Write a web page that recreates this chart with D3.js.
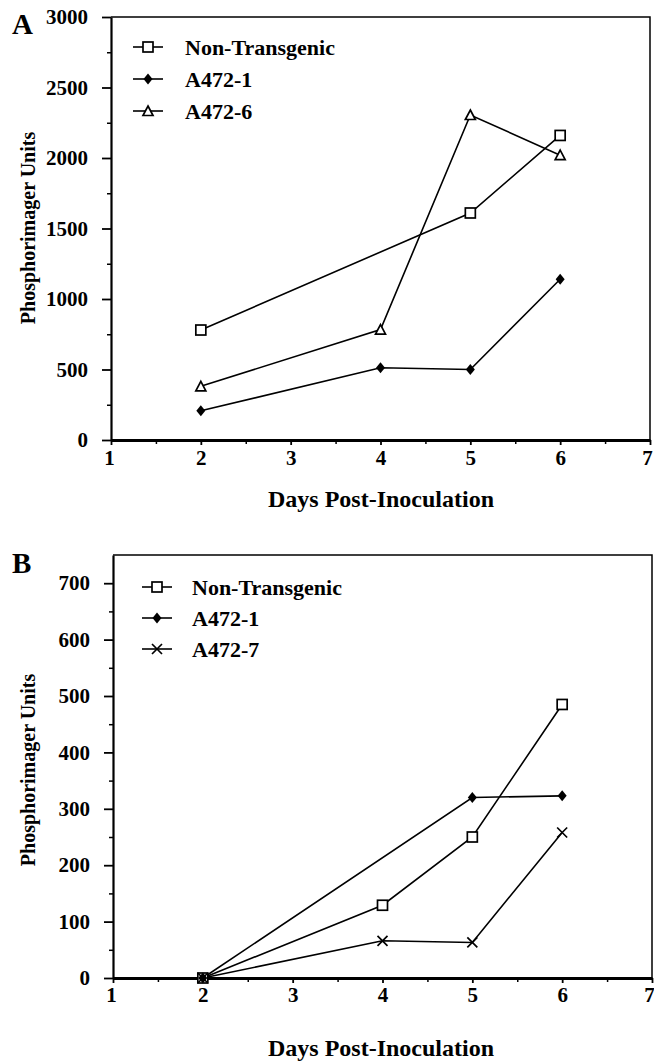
<!DOCTYPE html>
<html>
<head>
<meta charset="utf-8">
<script src="https://cdn.jsdelivr.net/npm/d3@7"></script>
<style>
  html, body { margin: 0; padding: 0; background: #fff; }
  svg text { font-family: "Liberation Serif", "Times New Roman", serif; font-weight: bold; fill: #000; }
</style>
</head>
<body>
<svg id="chart" width="654" height="1061"></svg>
<script>
// Panel A data (days post-inoculation vs phosphorimager units)
var seriesNamesA = ['Non-Transgenic', 'A472-1', 'A472-6'];
var nonTransgenicA = [[2, 780], [5, 1610], [6, 2160]];
var a472_1A = [[2, 207], [4, 512], [5, 500], [6, 1140]];
var a472_6A = [[2, 381], [4, 783], [5, 2305], [6, 2020]];
var yTicksA = [0, 500, 1000, 1500, 2000, 2500, 3000];

// Panel B data
var seriesNamesB = ['Non-Transgenic', 'A472-1', 'A472-7'];
var nonTransgenicB = [[2, 0], [4, 129], [5, 250], [6, 485]];
var a472_1B = [[2, 0], [5, 320], [6, 323]];
var a472_7B = [[2, 0], [4, 66], [5, 63], [6, 258]];
var yTicksB = [0, 100, 200, 300, 400, 500, 600, 700];

var xTicks = [1, 2, 3, 4, 5, 6, 7];

var svg = d3.select('#chart');

function drawMarker(g, type, x, y) {
  var s = 5;
  if (type === 'square') {
    g.append('rect')
      .attr('x', x - s).attr('y', y - s)
      .attr('width', 2 * s).attr('height', 2 * s)
      .attr('fill', '#fff').attr('stroke', '#000').attr('stroke-width', 1.7);
  } else if (type === 'diamond') {
    g.append('path')
      .attr('d', 'M' + x + ',' + (y - 5.5) + 'L' + (x + 4.5) + ',' + y +
        'L' + x + ',' + (y + 5.5) + 'L' + (x - 4.5) + ',' + y + 'Z')
      .attr('fill', '#000');
  } else if (type === 'triangle') {
    g.append('path')
      .attr('d', 'M' + x + ',' + (y - 5) + 'L' + (x + 5) + ',' + (y + 4.5) +
        'L' + (x - 5) + ',' + (y + 4.5) + 'Z')
      .attr('fill', '#fff').attr('stroke', '#000').attr('stroke-width', 1.7);
  } else if (type === 'cross') {
    g.append('path')
      .attr('d', 'M' + (x - 5) + ',' + (y - 5) + 'L' + (x + 5) + ',' + (y + 5) +
        'M' + (x + 5) + ',' + (y - 5) + 'L' + (x - 5) + ',' + (y + 5))
      .attr('stroke', '#000').attr('stroke-width', 1.7).attr('fill', 'none');
  }
}

function drawPanel(opts) {
  var x = d3.scaleLinear().domain([1, 7]).range([opts.left, opts.right]);
  var y = d3.scaleLinear().domain([0, opts.yMax]).range([opts.bottom, opts.top]);
  var g = svg.append('g');

  // frame (top + right)
  g.append('path')
    .attr('d', 'M' + opts.left + ',' + opts.top + 'H' + opts.right + 'V' + opts.bottom)
    .attr('fill', 'none').attr('stroke', '#000').attr('stroke-width', 1.5);

  // minor y ticks
  g.append('g')
    .attr('transform', 'translate(' + opts.left + ',0)')
    .call(d3.axisLeft(y).tickValues(d3.range(opts.yStep / 2, opts.yMax, opts.yStep))
      .tickSize(4).tickFormat(''))
    .call(function (a) { a.select('.domain').remove(); })
    .selectAll('line').attr('stroke-width', 1.5);

  // major y axis
  var ya = g.append('g')
    .attr('transform', 'translate(' + opts.left + ',0)')
    .call(d3.axisLeft(y).tickValues(opts.yTicks).tickSize(9).tickSizeOuter(0)
      .tickPadding(14).tickFormat(d3.format('d')));
  ya.select('.domain').attr('stroke-width', 2.2);
  ya.selectAll('line').attr('stroke-width', 1.8);
  ya.selectAll('text').attr('font-size', 21).attr('font-family', null);

  // minor x ticks
  g.append('g')
    .attr('transform', 'translate(0,' + opts.bottom + ')')
    .call(d3.axisBottom(x).tickValues(d3.range(1.5, 7, 1)).tickSize(4).tickFormat(''))
    .call(function (a) { a.select('.domain').remove(); })
    .selectAll('line').attr('stroke-width', 1.5);

  // major x axis
  var xa = g.append('g')
    .attr('transform', 'translate(0,' + opts.bottom + ')')
    .call(d3.axisBottom(x).tickValues(xTicks).tickSize(5).tickSizeOuter(0)
      .tickPadding(opts.xPad).tickFormat(d3.format('d')));
  xa.select('.domain').attr('stroke-width', 3);
  xa.selectAll('line').attr('stroke-width', 1.8);
  xa.selectAll('text').attr('font-size', 21).attr('font-family', null)
    .attr('dx', function (d) { return d === 7 ? -3 : (d === 1 ? -2 : 0); });

  // axis titles
  g.append('text')
    .attr('x', 381).attr('y', opts.xTitleY)
    .attr('text-anchor', 'middle').attr('font-size', 24)
    .text('Days Post-Inoculation');
  g.append('text')
    .attr('transform', 'translate(' + 35 + ',' + opts.yTitleY + ') rotate(-90)')
    .attr('text-anchor', 'middle').attr('font-size', 20)
    .text('Phosphorimager Units');

  // panel letter
  g.append('text')
    .attr('x', 12).attr('y', opts.letterY)
    .attr('font-size', 29).text(opts.letter);

  // series
  var line = d3.line().x(function (d) { return x(d[0]); }).y(function (d) { return y(d[1]); });
  opts.series.forEach(function (s) {
    g.append('path').datum(s.data).attr('d', line)
      .attr('fill', 'none').attr('stroke', '#000').attr('stroke-width', 1.6);
  });
  opts.series.forEach(function (s) {
    s.data.forEach(function (d) { drawMarker(g, s.marker, x(d[0]), y(d[1])); });
  });

  // legend
  opts.series.forEach(function (s, i) {
    var ly = opts.legendY + i * opts.legendStep;
    g.append('line')
      .attr('x1', opts.legendX - 15).attr('x2', opts.legendX + 15)
      .attr('y1', ly).attr('y2', ly)
      .attr('stroke', '#000').attr('stroke-width', 1.6);
    drawMarker(g, s.marker, opts.legendX, ly);
    g.append('text')
      .attr('x', opts.legendTextX).attr('y', ly + 8)
      .attr('font-size', 22).text(s.name);
  });
}

drawPanel({
  letter: 'A', letterY: 34,
  left: 111, right: 650, top: 17, bottom: 440,
  yMax: 3000, yStep: 500, yTicks: yTicksA,
  xPad: 5, xTitleY: 507, yTitleY: 228,
  legendX: 148, legendTextX: 185, legendY: 47, legendStep: 32,
  series: [
    { name: seriesNamesA[0], data: nonTransgenicA, marker: 'square' },
    { name: seriesNamesA[1], data: a472_1A, marker: 'diamond' },
    { name: seriesNamesA[2], data: a472_6A, marker: 'triangle' }
  ]
});

drawPanel({
  letter: 'B', letterY: 573,
  left: 113, right: 652, top: 555, bottom: 978,
  yMax: 750, yStep: 100, yTicks: yTicksB,
  xPad: 4, xTitleY: 1056, yTitleY: 770,
  legendX: 157, legendTextX: 192, legendY: 587, legendStep: 31,
  series: [
    { name: seriesNamesB[0], data: nonTransgenicB, marker: 'square' },
    { name: seriesNamesB[1], data: a472_1B, marker: 'diamond' },
    { name: seriesNamesB[2], data: a472_7B, marker: 'cross' }
  ]
});
</script>
</body>
</html>
